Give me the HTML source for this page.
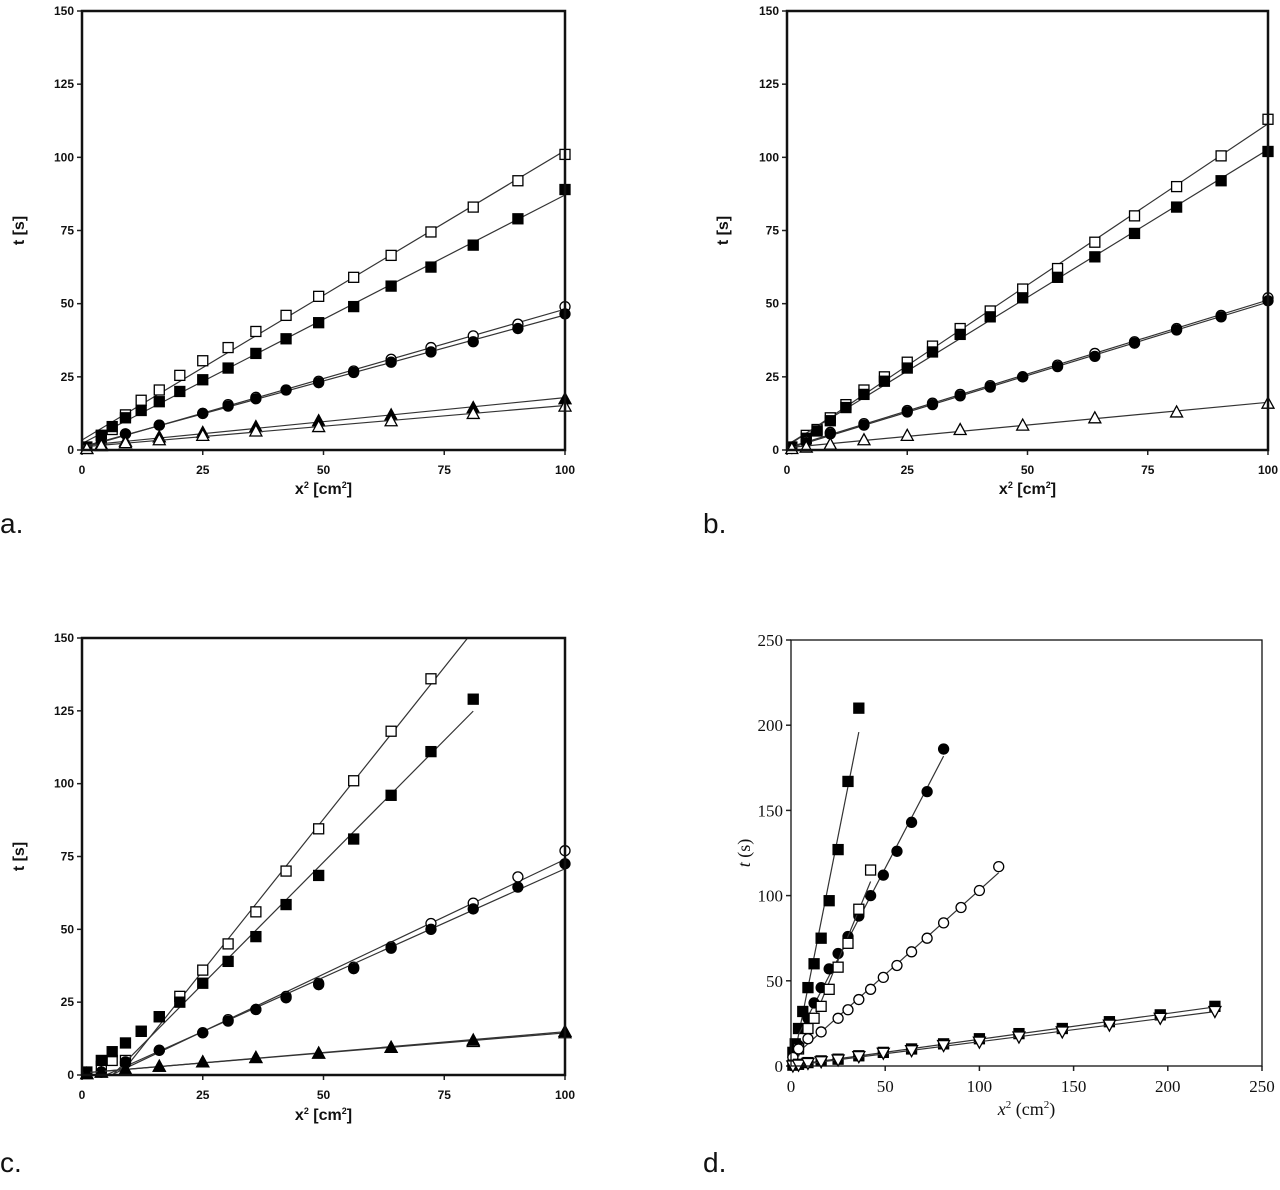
<!DOCTYPE html>
<html><head><meta charset="utf-8"><style>
body{margin:0;background:#fff;}
svg{display:block;}
.ax{font-family:"Liberation Sans",Arial,sans-serif;font-weight:bold;font-size:12px;fill:#111;}
.axd{font-family:"Liberation Serif","Times New Roman",serif;font-size:17px;fill:#111;}
.pl{font-family:"Liberation Sans",Arial,sans-serif;font-size:28px;fill:#111;}
</style></head><body>
<svg id="chart" width="1280" height="1190" viewBox="0 0 1280 1190">
<text class="pl" x="0" y="533">a.</text>
<text class="pl" x="703" y="533">b.</text>
<text class="pl" x="0" y="1172">c.</text>
<text class="pl" x="703" y="1172">d.</text>
</svg>
<script>
// ---- data (x = x^2 cm^2, y = t s) ----
const aX1=[1,4,6.25,9,12.25,16,20.25,25,30.25,36,42.25,49,56.25,64,72.25,81,90.25,100];
const aOpenSq=[1,5,7,12,17,20.5,25.5,30.5,35,40.5,46,52.5,59,66.5,74.5,83,92,101];
const aFillSq=[1,5,8,11,13.5,16.5,20,24,28,33,38,43.5,49,56,62.5,70,79,89];
const aX2=[1,4,9,16,25,30.25,36,42.25,49,56.25,64,72.25,81,90.25,100];
const aOpenCi=[1,2.5,5.5,8.5,12.5,15.5,18,20.5,23.5,27,31,35,39,43,49];
const aFillCi=[1,2.5,5.5,8.5,12.5,15,17.5,20.5,23,26.5,30,33.5,37,41.5,46.5];
const aX3=[1,4,9,16,25,36,49,64,81,100];
const aFillTr=[0.5,2,3,4.5,6,8,10,12,14.5,17.5];
const aOpenTr=[0.5,1.5,2.5,3.5,5,6.5,8,10,12.5,15];

const bOpenSq=[1,5,7,11,15.5,20.5,25,30,35.5,41.5,47.5,55,62,71,80,90,100.5,113];
const bFillSq=[1,4,6.5,10,14.5,19,23.5,28,33.5,39.5,45.5,52,59,66,74,83,92,102];
const bOpenCi=[0.5,3,6,9,13.5,16,19,22,25,29,33,37,41.5,46,52];
const bFillCi=[0.5,2.5,5.5,8.5,13,15.5,18.5,21.5,25,28.5,32,36.5,41,45.5,51];
const bOpenTr=[0.5,1,2,3.5,5,7,8.5,11,13,16];

const cXsq=[1,4,6.25,9,12.25,16,20.25,25,30.25,36,42.25,49,56.25,64,72.25,81];
const cOpenSq=[1,3,5,5,15,20,27,36,45,56,70,84.5,101,118,136,null];
const cFillSq=[1,5,8,11,15,20,25,31.5,39,47.5,58.5,68.5,81,96,111,129];
const cX2=[4,9,16,25,30.25,36,42.25,49,56.25,64,72.25,81,90.25,100];
const cOpenCi=[1,4,8.5,14.5,19,22.5,27,31.5,37,44,52,59,68,77];
const cFillCi=[1,4.5,8.5,14.5,18.5,22.5,26.5,31,36.5,43.5,50,57,64.5,72.5];
const cFillTr=[0.5,1,2,3,4.5,6,7.5,9.5,12,15];
const cOpenTr=[0.5,1,2,3,4.5,6,7.5,9.5,11.5,14.5];

const dXfs=[1,2.25,4,6.25,9,12.25,16,20.25,25,30.25,36];
const dFillSq=[8,13,22,32,46,60,75,97,127,167,210];
const dXfc=[4,9,12.25,16,20.25,25,30.25,36,42.25,49,56.25,64,72.25,81];
const dFillCi=[12,28,37,46,57,66,76,88,100,112,126,143,161,186];
const dXos=[4,9,12.25,16,20.25,25,30.25,36,42.25];
const dOpenSq=[10,22,28,35,45,58,72,92,115];
const dXoc=[1,4,9,16,25,30.25,36,42.25,49,56.25,64,72.25,81,90.25,100,110.25];
const dOpenCi=[5,10,16,20,28,33,39,45,52,59,67,75,84,93,103,117];
const dXtr=[1,4,9,16,25,36,49,64,81,100,121,144,169,196,225];
const dFillTr=[0.5,1,2,3,4,6,8,10,13,16,19,22,26,30,35];
const dOpenTr=[0,0.5,1.5,2.5,3.5,5.5,7.5,9,12,14,17,20,24,28,32];
const ticks150=["0","25","50","75","100","125","150"];
const ticks100=["0","25","50","75","100"];
const ticks250=["0","50","100","150","200","250"];

const svg=document.getElementById('chart');
const NS='http://www.w3.org/2000/svg';
function mk(tag,attrs,parent){const e=document.createElementNS(NS,tag);for(const k in attrs)e.setAttribute(k,attrs[k]);(parent||svg).appendChild(e);return e;}

function panel(p){
  const g=mk('g',{});
  
  
  const sx=v=>p.x0+(v-p.xmin)/(p.xmax-p.xmin)*(p.x1-p.x0);
  const sy=v=>p.y0-(v-p.ymin)/(p.ymax-p.ymin)*(p.y0-p.y1);
  const cls=p.serif?'axd':'ax';
  const cid=p.name+'-clip';
  const cp=mk('clipPath',{id:cid},g);
  mk('rect',{x:p.x0,y:p.y1,width:p.x1-p.x0,height:p.y0-p.y1},cp);
  p.yt.forEach(t=>{const v=+t,y=sy(v);
    mk('line',{x1:p.x0-5,x2:p.x0,y1:y,y2:y,stroke:'#222','stroke-width':1.5},g);
    const tx=mk('text',{x:p.x0-8,y:y+(p.serif?6:4),'text-anchor':'end','class':cls},g);tx.textContent=t;
    
    });
  p.xt.forEach(t=>{const v=+t,x=sx(v);
    mk('line',{x1:x,x2:x,y1:p.y0,y2:p.y0+5,stroke:'#222','stroke-width':1.5},g);
    const tx=mk('text',{x:x,y:p.y0+(p.serif?26:24),'text-anchor':'middle','class':cls},g);tx.textContent=t;
    
    });
  p.series.forEach(s=>{
    const pts=s.x.map((xv,i)=>[xv,s.y[i]]).filter(q=>q[1]!==null&&q[1]!==undefined);
    const f=pts.slice(s.skip||0);let n=f.length,mx=0,my=0;f.forEach(q=>{mx+=q[0];my+=q[1];});mx/=n;my/=n;
    let num=0,den=0;f.forEach(q=>{num+=(q[0]-mx)*(q[1]-my);den+=(q[0]-mx)**2;});
    const m=num/den,b=my-m*mx;const xa=s.lx0!==undefined?s.lx0:0,xb=s.lx1!==undefined?s.lx1:pts[pts.length-1][0];
    const ln=mk('line',{x1:sx(xa),y1:sy(m*xa+b),x2:sx(xb),y2:sy(m*xb+b),stroke:'#333','stroke-width':1.2,'clip-path':'url(#'+cid+')'},g);
    
    
    pts.forEach(q=>{const X=sx(q[0]),Y=sy(q[1]),r=p.ms;let e;
      const fill=s.filled?'#000':'#fff';
      if(s.shape==='sq')e=mk('rect',{x:X-r,y:Y-r,width:2*r,height:2*r,fill:fill,stroke:'#000','stroke-width':1.3},g);
      else if(s.shape==='ci')e=mk('circle',{cx:X,cy:Y,r:r,fill:fill,stroke:'#000','stroke-width':1.3},g);
      else if(s.shape==='tr')e=mk('polygon',{points:`${X},${Y-r-1} ${X-r-1},${Y+r} ${X+r+1},${Y+r}`,fill:fill,stroke:'#000','stroke-width':1.3},g);
      else e=mk('polygon',{points:`${X},${Y+r+1} ${X-r-1},${Y-r} ${X+r+1},${Y-r}`,fill:fill,stroke:'#000','stroke-width':1.3},g);
      
      });
  });
  const fr=mk('rect',{x:p.x0,y:p.y1,width:p.x1-p.x0,height:p.y0-p.y1,fill:'none',stroke:'#111','stroke-width':p.serif?1.3:2.5},g);
  
  
  const cx=(p.x0+p.x1)/2;
  const xt=mk('text',{x:cx,y:p.xty,'text-anchor':'middle','class':cls,style:p.serif?'font-size:18px':'font-size:16px'},g);
  
  
  if(p.serif){xt.innerHTML='<tspan font-style="italic">x</tspan><tspan dy="-7" font-size="11">2</tspan><tspan dy="7"> (cm</tspan><tspan dy="-7" font-size="11">2</tspan><tspan dy="7">)</tspan>';}
  else{xt.innerHTML='x<tspan dy="-6" font-size="9">2</tspan><tspan dy="6"> [cm</tspan><tspan dy="-6" font-size="9">2</tspan><tspan dy="6">]</tspan>';}
  const cy=(p.y0+p.y1)/2;
  const yt=mk('text',{x:p.ytx,y:cy,'text-anchor':'middle','class':cls,transform:`rotate(-90 ${p.ytx} ${cy})`,style:p.serif?'font-size:18px':'font-size:16px'},g);
  
  
  if(p.serif)yt.innerHTML='<tspan font-style="italic">t</tspan> (s)';else yt.textContent='t [s]';
}

panel({name:'panel-a',x0:82,x1:565,y0:450,y1:11,xmin:0,xmax:100,ymin:0,ymax:150,xt:ticks100,yt:ticks150,ms:5,xty:494,ytx:24,
 series:[{x:aX1,y:aOpenSq,shape:'sq'},{x:aX1,y:aFillSq,shape:'sq',filled:1},{x:aX2,y:aOpenCi,shape:'ci'},{x:aX2,y:aFillCi,shape:'ci',filled:1},
 {x:aX3,y:aFillTr,shape:'tr',filled:1},{x:aX3,y:aOpenTr,shape:'tr'}]});
panel({name:'panel-b',x0:787,x1:1268,y0:450,y1:11,xmin:0,xmax:100,ymin:0,ymax:150,xt:ticks100,yt:ticks150,ms:5,xty:494,ytx:728,
 series:[{x:aX1,y:bOpenSq,shape:'sq'},{x:aX1,y:bFillSq,shape:'sq',filled:1},{x:aX2,y:bOpenCi,shape:'ci'},{x:aX2,y:bFillCi,shape:'ci',filled:1},
 {x:aX3,y:bOpenTr,shape:'tr'}]});
panel({name:'panel-c',x0:82,x1:565,y0:1075,y1:638,xmin:0,xmax:100,ymin:0,ymax:150,xt:ticks100,yt:ticks150,ms:5,xty:1120,ytx:24,
 series:[{x:cXsq,y:cOpenSq,shape:'sq',skip:5,lx0:5,lx1:100},{x:cXsq,y:cFillSq,shape:'sq',filled:1,skip:5,lx0:5},{x:cX2,y:cOpenCi,shape:'ci',lx0:4},{x:cX2,y:cFillCi,shape:'ci',filled:1,lx0:4},
 {x:aX3,y:cOpenTr,shape:'tr'},{x:aX3,y:cFillTr,shape:'tr',filled:1}]});
panel({name:'panel-d',x0:791,x1:1262,y0:1066,y1:640,xmin:0,xmax:250,ymin:0,ymax:250,xt:ticks250,yt:ticks250,ms:5,xty:1115,ytx:750,serif:1,
 series:[{x:dXfs,y:dFillSq,shape:'sq',filled:1,lx1:36},{x:dXfc,y:dFillCi,shape:'ci',filled:1,lx0:4},{x:dXos,y:dOpenSq,shape:'sq',lx0:4},{x:dXoc,y:dOpenCi,shape:'ci'},
 {x:dXtr,y:dFillTr,shape:'sq',filled:1},{x:dXtr,y:dOpenTr,shape:'dt'}]});
</script>
</body></html>
